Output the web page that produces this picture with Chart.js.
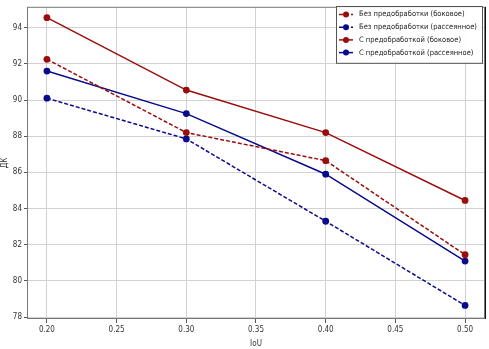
<!DOCTYPE html>
<html>
<head>
<meta charset="utf-8">
<script src="https://cdn.jsdelivr.net/npm/chart.js@4.4.1/dist/chart.umd.min.js"></script>
<style>
  html, body { margin: 0; padding: 0; background: #fff; }
  #wrap { width: 489px; height: 349px; }
</style>
</head>
<body>
<div id="wrap"><canvas id="chart"></canvas></div>
<script>
const iou = [0.20, 0.30, 0.40, 0.50];
const noPrepSide = [92.25, 88.2, 86.65, 81.45];
const noPrepScatter = [90.1, 87.85, 83.3, 78.65];
const prepSide = [94.55, 90.55, 88.2, 84.45];
const prepScatter = [91.6, 89.25, 85.9, 81.1];
const xTicks = [0.20, 0.25, 0.30, 0.35, 0.40, 0.45, 0.50];
const yTicks = [78, 80, 82, 84, 86, 88, 90, 92, 94];

const RED = '#9b0d0d';
const BLUE = '#0a0a8c';
const FONT = '"DejaVu Sans Condensed", "Liberation Sans Narrow", "DejaVu Sans"';

function toPoints(vals) {
  return iou.map((x, i) => ({x: x, y: vals[i]}));
}

function makeSet(label, vals, color, dashed) {
  return {
    label: label,
    data: toPoints(vals),
    borderColor: color,
    backgroundColor: color,
    borderWidth: 1.5,
    borderDash: dashed ? [4, 2] : [],
    pointRadius: 3.4,
    pointHoverRadius: 3.4,
    pointBorderWidth: 0,
  };
}

// frame around plot + matplotlib-like legend box in the top right corner
const framePlugin = {
  id: 'frame',
  afterDraw(chart) {
    const ctx = chart.ctx;
    const a = chart.chartArea;
    ctx.save();
    ctx.strokeStyle = '#777';
    ctx.lineWidth = 1;
    ctx.strokeRect(a.left + 0.5, a.top + 0.5, a.right - a.left - 1, a.bottom - a.top - 1);
    ctx.strokeStyle = '#111';
    ctx.beginPath();
    ctx.moveTo(a.right + 0.5, a.top); ctx.lineTo(a.right + 0.5, a.bottom);
    ctx.stroke();

    const sets = chart.data.datasets;
    const bx = 336, by = 6, bw = 146, rowH = 12.7;
    const bh = rowH * sets.length + 6;
    ctx.fillStyle = 'rgba(255,255,255,0.9)';
    ctx.fillRect(bx, by, bw, bh);
    ctx.strokeStyle = '#555';
    ctx.strokeRect(bx + 0.5, by + 0.5, bw, bh);
    ctx.font = '7.5px ' + FONT;
    ctx.textBaseline = 'middle';
    sets.forEach((d, i) => {
      const y = by + 8.5 + i * rowH;
      ctx.strokeStyle = d.borderColor;
      ctx.lineWidth = 1.5;
      ctx.setLineDash(d.borderDash);
      ctx.beginPath();
      ctx.moveTo(bx + 3, y); ctx.lineTo(bx + 17, y);
      ctx.stroke();
      ctx.setLineDash([]);
      ctx.fillStyle = d.borderColor;
      ctx.beginPath();
      ctx.arc(bx + 10, y, 3, 0, Math.PI * 2);
      ctx.fill();
      ctx.fillStyle = '#222';
      ctx.fillText(d.label, bx + 23, y);
    });
    ctx.restore();
  }
};

Chart.defaults.font.family = FONT;
Chart.defaults.font.size = 8;
Chart.defaults.color = '#333';

new Chart(document.getElementById('chart'), {
  type: 'line',
  data: {
    datasets: [
      makeSet('Без предобработки (боковое)', noPrepSide, RED, true),
      makeSet('Без предобработки (рассеянное)', noPrepScatter, BLUE, true),
      makeSet('С предобработкой (боковое)', prepSide, RED, false),
      makeSet('С предобработкой (рассеянное)', prepScatter, BLUE, false),
    ]
  },
  plugins: [framePlugin],
  options: {
    responsive: true,
    maintainAspectRatio: false,
    animation: false,
    layout: { padding: { top: 5, right: 4, left: 0, bottom: 0 } },
    plugins: {
      legend: { display: false },
      tooltip: { enabled: false }
    },
    scales: {
      x: {
        type: 'linear',
        min: 0.1857,
        max: 0.5143,
        afterBuildTicks(s) { s.ticks = xTicks.map(v => ({value: v})); },
        afterFit(s) { s.height = 30; },
        ticks: {
          callback: v => v.toFixed(2),
          padding: 2,
          maxRotation: 0,
        },
        title: { display: true, text: 'IoU', padding: 0 },
        grid: { color: '#d2d2d2', tickLength: 4, tickColor: '#555' },
        border: { display: false },
      },
      y: {
        min: 77.9,
        max: 95.15,
        afterBuildTicks(s) { s.ticks = yTicks.map(v => ({value: v})); },
        afterFit(s) { s.width = 27; },
        ticks: { padding: 2 },
        title: { display: true, text: 'ДК', padding: 0 },
        grid: { color: '#d2d2d2', tickLength: 3, tickColor: '#555' },
        border: { display: false },
      }
    }
  }
});
</script>
</body>
</html>
